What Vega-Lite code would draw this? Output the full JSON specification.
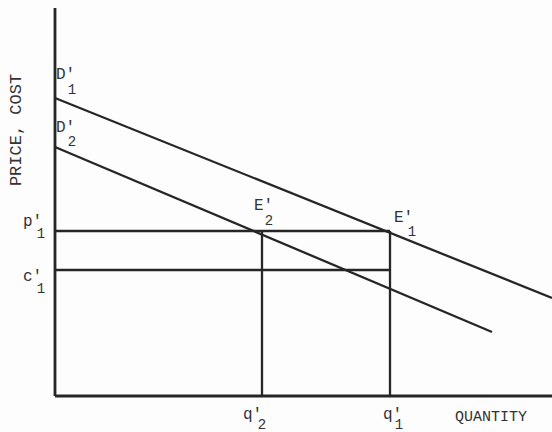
{
  "$schema": "https://vega.github.io/schema/vega-lite/v6.json",
  "width": 497,
  "height": 386,
  "autosize": "none",
  "padding": {"left": 55, "top": 10, "right": 0, "bottom": 36},
  "background": "#fdfdfd",
  "config": {"view": {"stroke": null}},
  "datasets": {
    "segments": [
      {"name": "y-axis", "x": 0, "y": 0, "x2": 0, "y2": 388, "w": "axis"},
      {"name": "x-axis", "x": 0, "y": 0, "x2": 497, "y2": 0, "w": "axis"},
      {"name": "D1", "x": 0, "y": 298, "x2": 497, "y2": 98, "w": "line"},
      {"name": "D2", "x": 0, "y": 249, "x2": 437, "y2": 64, "w": "line"},
      {"name": "p1", "x": 0, "y": 165, "x2": 335, "y2": 165, "w": "line"},
      {"name": "c1", "x": 0, "y": 126, "x2": 335, "y2": 126, "w": "line"},
      {"name": "q2", "x": 207, "y": 0, "x2": 207, "y2": 165, "w": "line"},
      {"name": "q1", "x": 335, "y": 0, "x2": 335, "y2": 165, "w": "line"}
    ],
    "labels": [
      {"t": "D′", "x": 1, "y": 322},
      {"t": "D′", "x": 1, "y": 269},
      {"t": "E′", "x": 199, "y": 191},
      {"t": "E′", "x": 339, "y": 179},
      {"t": "p′", "x": -32, "y": 175},
      {"t": "c′", "x": -32, "y": 120},
      {"t": "q′", "x": 188, "y": -18},
      {"t": "q′", "x": 328, "y": -18}
    ],
    "subs": [
      {"t": "1", "x": 17, "y": 306},
      {"t": "2", "x": 17, "y": 254},
      {"t": "2", "x": 214, "y": 175},
      {"t": "1", "x": 357, "y": 164},
      {"t": "1", "x": -14, "y": 162},
      {"t": "1", "x": -14, "y": 107},
      {"t": "2", "x": 207, "y": -29},
      {"t": "1", "x": 344, "y": -29}
    ],
    "titles": [
      {"t": "QUANTITY", "x": 436, "y": -20, "a": 0, "s": "x"},
      {"t": "PRICE, COST", "x": -39, "y": 266, "a": 270, "s": "y"}
    ]
  },
  "layer": [
    {
      "data": {"name": "segments"},
      "mark": {"type": "rule", "color": "#262626"},
      "encoding": {
        "x": {"field": "x", "type": "quantitative", "scale": {"domain": [0, 497], "nice": false, "zero": false}, "axis": null},
        "y": {"field": "y", "type": "quantitative", "scale": {"domain": [0, 386], "nice": false, "zero": false}, "axis": null},
        "x2": {"field": "x2"},
        "y2": {"field": "y2"},
        "strokeWidth": {"field": "w", "type": "nominal", "scale": {"domain": ["axis", "line"], "range": [2.8, 2.3]}, "legend": null}
      }
    },
    {
      "data": {"name": "labels"},
      "mark": {"type": "text", "font": "Liberation Mono", "fontSize": 16, "align": "left", "baseline": "middle", "color": "#333333"},
      "encoding": {
        "x": {"field": "x", "type": "quantitative"},
        "y": {"field": "y", "type": "quantitative"},
        "text": {"field": "t"}
      }
    },
    {
      "data": {"name": "subs"},
      "mark": {"type": "text", "font": "Liberation Mono", "fontSize": 14, "align": "center", "baseline": "middle", "color": "#333333"},
      "encoding": {
        "x": {"field": "x", "type": "quantitative"},
        "y": {"field": "y", "type": "quantitative"},
        "text": {"field": "t"}
      }
    },
    {
      "data": {"name": "titles"},
      "mark": {"type": "text", "font": "Liberation Mono", "align": "center", "baseline": "middle", "color": "#333333"},
      "encoding": {
        "x": {"field": "x", "type": "quantitative"},
        "y": {"field": "y", "type": "quantitative"},
        "text": {"field": "t"},
        "angle": {"field": "a", "type": "quantitative", "scale": null},
        "size": {"field": "s", "type": "nominal", "scale": {"domain": ["x", "y"], "range": [15, 17]}, "legend": null}
      }
    }
  ]
}
